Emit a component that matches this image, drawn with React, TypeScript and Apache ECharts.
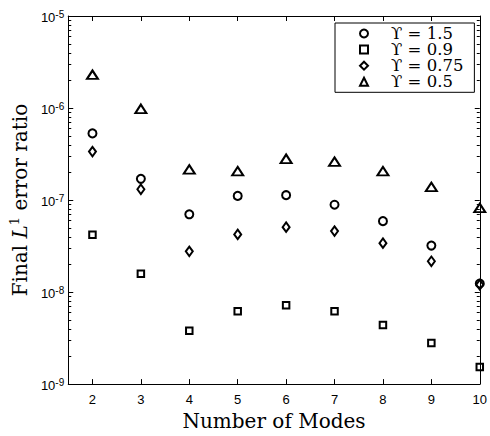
import React, { useEffect, useRef } from 'react';
import * as echarts from 'echarts';

// Number of modes (x) and final L1 error ratio per Upsilon value (y, log scale)
const modes = [2, 3, 4, 5, 6, 7, 8, 9, 10];
const upsilon15 = [5.3e-7, 1.7e-7, 7.0e-8, 1.11e-7, 1.13e-7, 8.9e-8, 5.9e-8, 3.2e-8, 1.24e-8];
const upsilon09 = [4.2e-8, 1.58e-8, 3.8e-9, 6.2e-9, 7.2e-9, 6.2e-9, 4.4e-9, 2.8e-9, 1.53e-9];
const upsilon075 = [3.36e-7, 1.31e-7, 2.77e-8, 4.23e-8, 5.07e-8, 4.6e-8, 3.4e-8, 2.16e-8, 1.2e-8];
const upsilon05 = [2.3e-6, 9.8e-7, 2.15e-7, 2.06e-7, 2.81e-7, 2.61e-7, 2.06e-7, 1.39e-7, 8.2e-8];
const legendLabels = ['ϒ = 1.5', 'ϒ = 0.9', 'ϒ = 0.75', 'ϒ = 0.5'];
const xTickValues = [2, 3, 4, 5, 6, 7, 8, 9, 10];
const xMin = 1.5;
const xMax = 10;
const yMin = 1e-9;
const yMax = 1e-5;
const minorMultipliers = [2, 3, 4, 5, 6, 7, 8, 9];
const minorDecades = [1e-9, 1e-8, 1e-7, 1e-6];

const symbols = ['circle', 'rect', 'diamond', 'triangle'];
const symbolSizes: any[] = [8, 6.5, [7, 9.5], [11, 8.5]];

export default function App() {
  const ref = useRef<HTMLDivElement>(null);
  useEffect(() => {
    const chart = echarts.init(ref.current!, null, { renderer: 'svg' });
    const black = '#000';
    const sans = "'Liberation Sans', Arial, Helvetica, sans-serif";
    const serif = "'DejaVu Serif', serif";
    const seriesData = [upsilon15, upsilon09, upsilon075, upsilon05];
    const minorTicks: number[][] = [];
    minorDecades.forEach((d) => minorMultipliers.forEach((k) => minorTicks.push([xMin, k * d])));

    const scatter = seriesData.map((vals, i) => ({
      type: 'scatter',
      name: legendLabels[i],
      symbol: symbols[i],
      symbolSize: symbolSizes[i],
      data: modes.map((m, j) => [m, vals[j]]),
      itemStyle: { color: 'transparent', borderColor: black, borderWidth: 2, opacity: 1 },
      emphasis: { disabled: true },
      clip: false,
      z: 3,
    }));

    const axisLine = { show: true, onZero: false, lineStyle: { color: black, width: 1 } };

    chart.setOption({
      animation: false,
      backgroundColor: '#fff',
      grid: { left: 66, top: 16, width: 418, height: 376, containLabel: false },
      legend: {
        orient: 'vertical',
        left: 335,
        top: 23,
        padding: [2, 11, 2, 24],
        itemGap: -0.9,
        itemWidth: 8,
        itemHeight: 8,
        symbolKeepAspect: true,
        backgroundColor: '#fff',
        borderColor: black,
        borderWidth: 1,
        borderRadius: 0,
        selectedMode: false,
        itemStyle: { color: 'transparent', borderColor: black, borderWidth: 2 },
        formatter: (name: string) => '{t|' + name + '}',
        textStyle: {
          fontFamily: serif,
          fontSize: 16.5,
          color: black,
          lineHeight: 15.6,
          rich: {
            t: { fontFamily: serif, fontSize: 16.5, color: black, lineHeight: 15.6, padding: [0, 0, 0, 18] },
          },
        },
        data: legendLabels,
      },
      xAxis: [
        {
          type: 'value',
          min: xMin,
          max: xMax,
          position: 'bottom',
          axisLine,
          axisTick: { show: true, inside: true, length: 5, customValues: xTickValues, lineStyle: { color: black } },
          axisLabel: { customValues: xTickValues, color: black, fontSize: 13, fontFamily: sans, margin: 9 },
          splitLine: { show: false },
          name: 'Number of Modes',
          nameLocation: 'middle',
          nameGap: 19,
          nameTextStyle: { fontFamily: serif, fontSize: 20, color: black },
        },
        {
          type: 'value',
          min: xMin,
          max: xMax,
          position: 'top',
          axisLine,
          axisTick: { show: true, inside: true, length: 5, customValues: xTickValues, lineStyle: { color: black } },
          axisLabel: { show: false },
          splitLine: { show: false },
        },
      ],
      yAxis: [
        {
          type: 'log',
          logBase: 10,
          min: yMin,
          max: yMax,
          position: 'left',
          axisLine,
          axisTick: { show: true, inside: true, length: 5, lineStyle: { color: black } },
          axisLabel: {
            margin: 4,
            formatter: (v: number) => '{b|10}{s|' + Math.round(Math.log10(v)) + '}',
            rich: {
              b: { fontFamily: sans, fontSize: 13, color: black, lineHeight: 13, padding: [3, 0, 0, 0] },
              s: { fontFamily: sans, fontSize: 10, color: black, lineHeight: 7, verticalAlign: 'top' },
            },
          },
          splitLine: { show: false },
          minorTick: { show: false },
          name: '{n|Final }{i|L}{s|1}{n| error ratio}',
          nameLocation: 'middle',
          nameGap: 38,
          nameTextStyle: {
            fontFamily: serif,
            fontSize: 20,
            color: black,
            rich: {
              n: { fontFamily: serif, fontSize: 20, color: black, lineHeight: 22, verticalAlign: 'bottom' },
              i: { fontFamily: serif, fontSize: 20, fontStyle: 'italic', color: black, lineHeight: 22, verticalAlign: 'bottom' },
              s: { fontFamily: serif, fontSize: 13, color: black, lineHeight: 14, verticalAlign: 'top' },
            },
          },
        },
        {
          type: 'log',
          logBase: 10,
          min: yMin,
          max: yMax,
          position: 'right',
          axisLine,
          axisTick: { show: true, inside: true, length: 5, lineStyle: { color: black } },
          axisLabel: { show: false },
          splitLine: { show: false },
          minorTick: { show: false },
        },
      ],
      series: [
        ...scatter,
        {
          type: 'custom',
          name: 'minor ticks',
          silent: true,
          clip: false,
          z: 2,
          data: minorTicks,
          renderItem: (params: any, api: any) => {
            const p = api.coord([xMin, api.value(1)]);
            const cs = params.coordSys;
            const y = Math.round(p[1]) + 0.5;
            return {
              type: 'group',
              children: [
                { type: 'line', shape: { x1: cs.x, y1: y, x2: cs.x + 3, y2: y }, style: { stroke: black, lineWidth: 1 } },
                { type: 'line', shape: { x1: cs.x + cs.width - 3, y1: y, x2: cs.x + cs.width, y2: y }, style: { stroke: black, lineWidth: 1 } },
              ],
            };
          },
        },
      ],
    } as any);
    return () => chart.dispose();
  }, []);
  return (
    <div
      ref={ref}
      style={{ position: 'absolute', left: 0, top: 0, width: 490, height: 436, background: '#fff' }}
    />
  );
}
